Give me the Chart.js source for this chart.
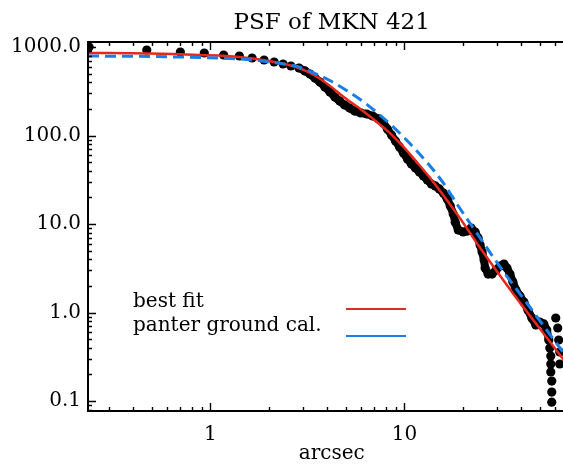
<!DOCTYPE html>
<html>
<head>
<meta charset="utf-8">
<script src="https://cdn.jsdelivr.net/npm/chart.js@4.4.0/dist/chart.umd.min.js"></script>
<style>
  html, body { margin: 0; padding: 0; background: #fff; }
  #wrap { width: 563px; height: 466px; overflow: hidden; }
</style>
</head>
<body>
<div id="wrap"><canvas id="psf" width="580" height="466"></canvas></div>
<script>
// measured radial profile (arcsec, counts)
const psfX = [0.237, 0.47, 0.70, 0.93, 1.17, 1.41, 1.64, 1.89, 2.13, 2.37, 2.60, 2.86,
  3.07, 3.26, 3.46, 3.67, 3.89, 4.13, 4.38, 4.64, 4.92, 5.22, 5.54, 5.95, 6.39, 6.86,
  7.36, 7.80, 8.18, 8.58, 8.99, 9.43, 9.88, 10.36, 10.86, 11.39, 11.94, 12.52, 13.12,
  13.76, 14.42, 15.12, 15.85, 16.62, 17.22, 17.84, 18.26, 18.92, 20.07, 21.04, 22.06,
  23.13, 23.96, 24.53, 25.12, 25.72, 26.03, 26.97, 28.27, 29.64, 31.07, 32.57, 33.75,
  34.97, 36.22, 37.53, 39.35, 41.25, 43.25, 45.34, 47.53, 49.83, 52.24, 54.12, 55.42,
  56.08, 56.74, 56.74, 56.74, 57.41, 57.41, 57.41, 60.19, 61.62, 62.35, 63.10, 63.10];
const psfY = [1000, 925, 878, 855, 812, 791, 751, 713, 677, 643, 610, 579,
  536, 495, 446, 402, 353, 310, 272, 245, 221, 204, 189, 180, 175, 166,
  154, 138, 118, 101, 86.7, 74.2, 63.4, 54.3, 47.6, 42.9, 38.7, 34.9, 31.4,
  28.3, 26.9, 24.9, 22.4, 19.2, 16.0, 13.0, 10.5, 8.55, 8.12, 8.33, 9.01,
  8.12, 6.95, 5.79, 4.83, 3.92, 3.18, 2.72, 2.72, 3.02, 3.35, 3.53, 3.18,
  2.72, 2.21, 1.80, 1.54, 1.31, 1.07, 0.867, 0.723, 0.781, 0.742, 0.634, 0.489,
  0.397, 0.322, 0.262, 0.213, 0.168, 0.126, 0.097, 0.867, 0.668, 0.489, 0.358, 0.262];

// best fit model
const fitX = [0.234, 0.487, 0.878, 1.408, 2.007, 2.761, 3.415, 4.075, 4.866, 6.02, 7.10,
  8.28, 9.88, 11.80, 14.08, 16.81, 20.07, 23.96, 30.35, 38.42, 48.67, 63.86, 76.2];
const fitY = [855, 845, 812, 771, 695, 594, 483, 372, 272, 194, 146,
  110, 74.2, 47.6, 29.8, 17.7, 10.3, 5.79, 2.80, 1.38, 0.704, 0.322, 0.197];

// panter ground calibration
const panterX = [0.234, 0.487, 0.878, 1.408, 2.007, 2.86, 3.415, 4.075, 4.984, 6.163, 7.356,
  8.993, 10.73, 13.28, 15.85, 18.92, 23.96, 30.35, 38.42, 48.67, 63.86, 76.2];
const panterY = [791, 781, 761, 732, 677, 594, 508, 424, 327, 239, 175,
  118, 80.2, 47.6, 29.1, 16.0, 7.51, 3.53, 1.75, 0.867, 0.387, 0.236];

const xTickValues = [1, 10];
const yTickValues = [0.1, 1, 10, 100, 1000];
const xMinor = [0.3, 0.4, 0.5, 0.6, 0.7, 0.8, 0.9, 2, 3, 4, 5, 6, 7, 8, 9, 20, 30, 40, 50, 60, 70];
const yMinor = [0.08, 0.09, 0.2, 0.3, 0.4, 0.5, 0.6, 0.7, 0.8, 0.9, 2, 3, 4, 5, 6, 7, 8, 9,
  20, 30, 40, 50, 60, 70, 80, 90, 200, 300, 400, 500, 600, 700, 800, 900];

const FONT = 'DejaVu Serif';
const RED = '#e5281e';
const BLUE = '#1a7ee6';

const toPts = (xs, ys) => xs.map((x, i) => ({ x: x, y: ys[i] }));

// IDL style frame, ticks pointing inwards on every side
const frame = {
  id: 'frame',
  afterDraw(chart) {
    const { ctx, chartArea: a, scales: { x, y } } = chart;
    ctx.save();
    ctx.strokeStyle = '#000';
    ctx.lineWidth = 2;
    ctx.strokeRect(a.left, a.top, a.right - a.left, a.bottom - a.top);
    ctx.lineWidth = 1.4;
    ctx.beginPath();
    const xt = (v, len) => {
      const p = Math.round(x.getPixelForValue(v)) + 0.5;
      if (p < a.left || p > a.right) return;
      ctx.moveTo(p, a.bottom); ctx.lineTo(p, a.bottom - len);
      ctx.moveTo(p, a.top); ctx.lineTo(p, a.top + len);
    };
    const yt = (v, len) => {
      const p = Math.round(y.getPixelForValue(v)) + 0.5;
      if (p < a.top || p > a.bottom) return;
      ctx.moveTo(a.left, p); ctx.lineTo(a.left + len, p);
      ctx.moveTo(a.right, p); ctx.lineTo(a.right - len, p);
    };
    xTickValues.forEach(v => xt(v, 8));
    xMinor.forEach(v => xt(v, 4));
    yTickValues.forEach(v => yt(v, 8));
    yMinor.forEach(v => yt(v, 4));
    ctx.stroke();
    ctx.restore();
  }
};

// legend: label on the left, line sample on the right
const legendBox = {
  id: 'legendBox',
  afterDraw(chart) {
    const ctx = chart.ctx;
    ctx.save();
    ctx.font = '20px "' + FONT + '"';
    ctx.fillStyle = '#000';
    ctx.textBaseline = 'alphabetic';
    ctx.fillText('best fit', 133, 307);
    ctx.fillText('panter ground cal.', 133, 331);
    ctx.lineWidth = 2;
    ctx.strokeStyle = RED;
    ctx.beginPath(); ctx.moveTo(346, 309); ctx.lineTo(406, 309); ctx.stroke();
    ctx.strokeStyle = BLUE;
    ctx.beginPath(); ctx.moveTo(346, 336); ctx.lineTo(406, 336); ctx.stroke();
    ctx.restore();
  }
};

// the profile points merge into a thick band between ~2.8 and ~55 arcsec
const bandSegment = c => (c.p0.parsed.x < 2.8 || c.p0.parsed.x > 55 ? 'rgba(0,0,0,0)' : '#000');

new Chart(document.getElementById('psf'), {
  type: 'scatter',
  data: {
    datasets: [
      {
        label: 'panter ground cal.',
        data: toPts(panterX, panterY),
        showLine: true,
        borderColor: BLUE,
        borderWidth: 3,
        borderDash: [11, 6],
        pointRadius: 0,
        cubicInterpolationMode: 'monotone',
        order: 0
      },
      {
        label: 'best fit',
        data: toPts(fitX, fitY),
        showLine: true,
        borderColor: RED,
        borderWidth: 2.5,
        pointRadius: 0,
        cubicInterpolationMode: 'monotone',
        order: 1
      },
      {
        label: 'MKN 421',
        data: toPts(psfX, psfY),
        showLine: true,
        borderWidth: 8,
        borderJoinStyle: 'round',
        borderCapStyle: 'round',
        segment: { borderColor: bandSegment },
        pointRadius: 4.6,
        pointBackgroundColor: '#000',
        pointBorderWidth: 0,
        order: 2
      }
    ]
  },
  options: {
    responsive: false,
    animation: false,
    layout: { padding: { left: 0, right: 2, top: 0, bottom: 0 } },
    plugins: {
      legend: { display: false },
      tooltip: { enabled: false },
      title: {
        display: true,
        text: 'PSF of MKN 421',
        fullSize: false,
        color: '#000',
        font: { family: FONT, size: 23, weight: 'normal' },
        padding: { top: 9, bottom: 5.4 }
      }
    },
    scales: {
      x: {
        type: 'logarithmic',
        min: 0.234,
        max: 76,
        afterBuildTicks: s => { s.ticks = xTickValues.map(v => ({ value: v })); },
        afterFit: s => { s.height = 55; },
        grid: { display: false, drawTicks: false },
        border: { display: false },
        ticks: {
          autoSkip: false, maxRotation: 0, padding: 12, color: '#000',
          font: { family: FONT, size: 20 },
          callback: v => String(v)
        },
        title: {
          display: true, text: 'arcsec', color: '#000', padding: 0,
          font: { family: FONT, size: 20 }
        }
      },
      y: {
        type: 'logarithmic',
        min: 0.0771,
        max: 1139,
        afterBuildTicks: s => { s.ticks = yTickValues.map(v => ({ value: v })); },
        afterFit: s => { s.width = 88; },
        grid: { display: false, drawTicks: false },
        border: { display: false },
        ticks: {
          autoSkip: false, padding: 7, color: '#000',
          font: { family: FONT, size: 20 },
          callback: v => Number(v).toFixed(1)
        }
      }
    }
  },
  plugins: [frame, legendBox]
});
</script>
</body>
</html>
